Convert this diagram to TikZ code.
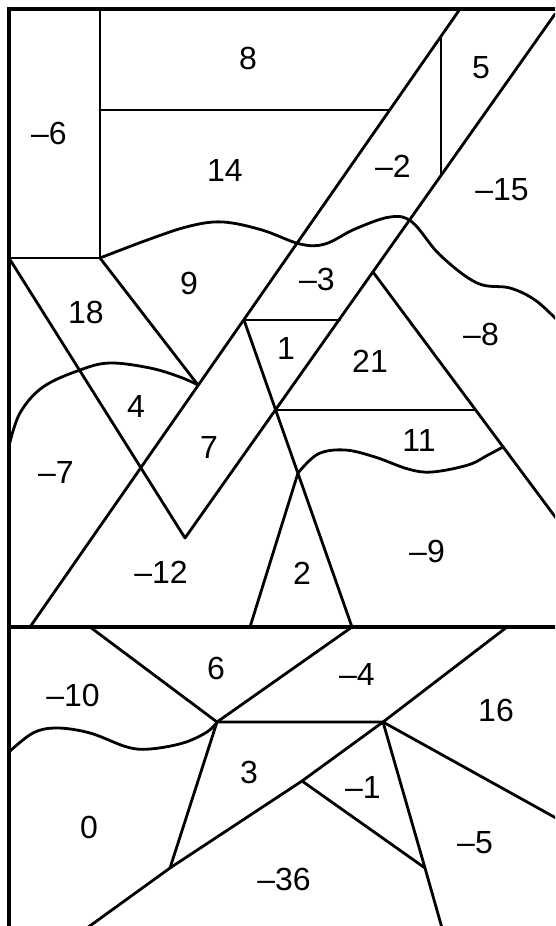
\documentclass[tikz,border=0pt]{standalone}
\usepackage{fontspec}
\setmainfont{Liberation Sans}
\begin{document}
\begin{tikzpicture}[x=1pt,y=-1pt,
  edge/.style={line width=2.8pt, line join=round, line cap=round},
  frame/.style={line width=3.4pt, line join=miter},
  lbl/.style={font=\fontsize{32}{38}\selectfont, inner sep=0pt}]
\useasboundingbox (0,0) rectangle (555,926);
\clip (0,0) rectangle (555,926);
% key points
\coordinate (TL) at (9,9);
\coordinate (TR) at (556,9);
\coordinate (BL) at (9,927);
\coordinate (A) at (100,9);
\coordinate (B) at (100,258);
\coordinate (C) at (9,258);
\coordinate (D) at (100,110);
\coordinate (E) at (390,110);
\coordinate (L1) at (460,9);
\coordinate (L2) at (30,627);
\coordinate (R1) at (555,14);
\coordinate (R2) at (185,538);
\coordinate (V1) at (441,36);
\coordinate (V2) at (441,175);
\coordinate (P) at (373,272);
\coordinate (P2) at (556,518);
\coordinate (Q) at (244,320);
\coordinate (Q2) at (340,320);
\coordinate (S) at (276,410);
\coordinate (S2) at (475,410);
\coordinate (T) at (298,473);
\coordinate (U1) at (250,627);
\coordinate (U2) at (352,627);
\coordinate (K) at (198,385);
\coordinate (W) at (9,446);
\coordinate (ML) at (9,627);
\coordinate (MR) at (556,627);
\coordinate (M1) at (90,627);
\coordinate (N) at (217,722);
\coordinate (O) at (383,722);
\coordinate (O2) at (507,627);
\coordinate (O3) at (556,818);
\coordinate (F) at (302,781);
\coordinate (G) at (170,868);
\coordinate (H) at (425,868);
\coordinate (Hb) at (442,928);
\coordinate (Gb) at (87,928);
\coordinate (Z) at (9,752);
\coordinate (Y) at (503,447);
% frame
\draw[frame] (BL) -- (TL) -- (TR);
\draw[frame] (ML) -- (MR);
% top part
\draw[edge] (A) -- (B) -- (C);
\draw[edge] (D) -- (E);
\draw[edge] (L1) -- (L2);
\draw[edge] (R1) -- (R2);
\draw[edge] (V1) -- (V2);
\draw[edge] (C) -- (R2);
\draw[edge] (B) -- (K);
\draw[edge] (P) -- (P2);
\draw[edge] (Q) -- (Q2);
\draw[edge] (Q) -- (U2);
\draw[edge] (S) -- (S2);
\draw[edge] (T) -- (U1);
\draw[edge] plot[smooth, tension=0.6] coordinates {(B) (150,239) (190,226) (223,222) (262,230) (300,244) (325,244) (355,229) (390,217) (412,222) (440,255) (477,283) (510,288) (535,300) (556,319)};
\draw[edge] plot[smooth, tension=0.6] coordinates {(W) (20,413) (43,387) (80,370) (110,363) (150,368) (180,377) (K)};
\draw[edge] plot[smooth, tension=0.6] coordinates {(T) (318,454) (345,450) (375,457) (408,469) (432,472) (468,465) (488,455) (Y)};
% bottom part
\draw[edge] (M1) -- (N) -- (U2);
\draw[edge] (N) -- (O) -- (O2);
\draw[edge] (O) -- (O3);
\draw[edge] (O) -- (F) -- (G) -- (Gb);
\draw[edge] (O) -- (H) -- (Hb);
\draw[edge] (F) -- (H);
\draw[edge] (N) -- (G);
\draw[edge] plot[smooth, tension=0.6] coordinates {(Z) (33,733) (57,728) (90,733) (127,747) (150,749) (183,743) (207,732) (N)};
% labels
\node[lbl] (n8) at (248,58) {8};
\node[lbl] (n5) at (481,68) {5};
\node[lbl] (nm6) at (49,133) {–6};
\node[lbl] (n14) at (225,170) {14};
\node[lbl] (nm2) at (393,166) {–2};
\node[lbl] (nm15) at (502,190) {–15};
\node[lbl] (n9) at (189,283) {9};
\node[lbl] (nm3) at (317,279) {–3};
\node[lbl] (n18) at (86,312) {18};
\node[lbl] (n1) at (286,348) {1};
\node[lbl] (n21) at (370,361) {21};
\node[lbl] (nm8) at (481,334) {–8};
\node[lbl] (n4) at (136,406) {4};
\node[lbl] (n7) at (209,447) {7};
\node[lbl] (n11) at (419,440) {11};
\node[lbl] (nm7) at (56,472) {–7};
\node[lbl] (nm9) at (427,551) {–9};
\node[lbl] (nm12) at (161,572) {–12};
\node[lbl] (n2) at (302,573) {2};
\node[lbl] (n6) at (216,668) {6};
\node[lbl] (nm4) at (357,674) {–4};
\node[lbl] (nm10) at (73,695) {–10};
\node[lbl] (n16) at (496,710) {16};
\node[lbl] (n3) at (249,772) {3};
\node[lbl] (nm1) at (363,787) {–1};
\node[lbl] (n0) at (89,827) {0};
\node[lbl] (nm5) at (475,843) {–5};
\node[lbl] (nm36) at (284,879) {–36};
\end{tikzpicture}
\end{document}
